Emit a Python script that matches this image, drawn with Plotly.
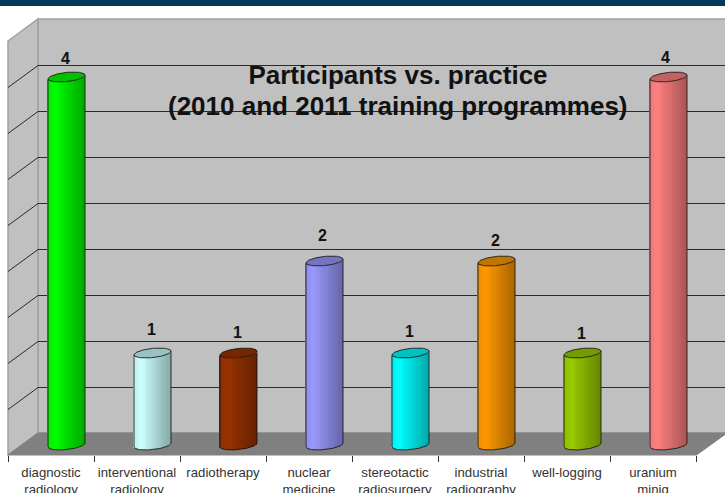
import math
import plotly.graph_objects as go

categories = ["diagnostic<br>radiology", "interventional<br>radiology", "radiotherapy",
              "nuclear<br>medicine", "stereotactic<br>radiosurgery", "industrial<br>radiography",
              "well-logging", "uranium<br>minig"]
participants = [4, 1, 1, 2, 1, 2, 1, 4]
bar_colors = ["#00ff00", "#ccffff", "#993300", "#9999ff", "#00ffff", "#ff9900", "#99cc00", "#ff8080"]
grid_values = [0.5, 1, 1.5, 2, 2.5, 3, 3.5, 4]
title_lines = ["Participants vs. practice", "(2010 and 2011 training programmes)"]
label_lift = [19, 24, 21, 26, 22, 21, 20, 20]
label_nudge = [0, 0, 0, -1, 0, 0, 0, -2]

W, H = 725, 493
FLOOR_FRONT, FLOOR_BACK = 455, 433
LEFT_FRONT, LEFT_BACK = 8, 38
RIGHT_FRONT, RIGHT_BACK = 696.5, 727
SLOT = 86.0
CENTER0 = 51.0
UNIT = 92.0
ZERO_PX = 445.0
BAR_W = 37.0
BAR_SHIFT = 15.5
CAP_B, CAP_TILT = 4.6, 1.9

px = lambda x: x / W
py = lambda y: 1 - y / H
xunit = lambda p: p / SLOT
yunit = lambda p: p / UNIT


def shade(hex_color, f):
    r, g, b = (int(hex_color[k:k + 2], 16) for k in (1, 3, 5))
    return f"rgb({r * f:.0f},{g * f:.0f},{b * f:.0f})"


def poly(points):
    return "M" + " L".join(f"{px(a):.5f},{py(b):.5f}" for a, b in points) + " Z"


shapes = [
    dict(type="rect", xref="paper", yref="paper", x0=0, x1=1, y0=py(6), y1=1,
         fillcolor="#00395a", line_width=0, layer="below"),
    dict(type="path", xref="paper", yref="paper", layer="below", fillcolor="#c0c0c0",
         line=dict(color="#a0a0a0", width=1.5),
         path=poly([(LEFT_BACK, 19), (RIGHT_BACK + 5, 19), (RIGHT_BACK + 5, FLOOR_BACK), (LEFT_BACK, FLOOR_BACK)])),
    dict(type="path", xref="paper", yref="paper", layer="below", fillcolor="#c0c0c0",
         line=dict(color="#a0a0a0", width=1.5),
         path=poly([(LEFT_FRONT, 41), (LEFT_BACK, 19), (LEFT_BACK, FLOOR_BACK), (LEFT_FRONT, FLOOR_FRONT)])),
]
for g in grid_values:
    back_y = FLOOR_BACK - g * UNIT + 0.5
    shapes.append(dict(type="line", xref="paper", yref="paper", layer="below",
                       x0=px(LEFT_BACK), x1=1, y0=py(back_y), y1=py(back_y),
                       line=dict(color="#2a2a2a", width=1)))
    shapes.append(dict(type="line", xref="paper", yref="paper", layer="below",
                       x0=px(LEFT_FRONT), x1=px(LEFT_BACK), y0=py(back_y + 22), y1=py(back_y),
                       line=dict(color="#2a2a2a", width=1)))
shapes.append(dict(type="path", xref="paper", yref="paper", layer="below", fillcolor="#808080",
                   line=dict(color="#808080", width=1),
                   path=poly([(LEFT_FRONT, FLOOR_FRONT), (LEFT_BACK, FLOOR_BACK),
                              (RIGHT_BACK, FLOOR_BACK), (RIGHT_FRONT, FLOOR_FRONT)])))

fig = go.Figure()
half = BAR_W / 2
shift = xunit(BAR_SHIFT)
N = 20


def arc(u, sign):
    """pixel offset (upwards) of the cylinder ellipse at relative position u"""
    return CAP_TILT * u + sign * CAP_B * math.sqrt(max(0.0, 1 - u * u))


for s in range(N):
    u = (s + 0.5) / N * 2 - 1
    t = (s + 0.5) / N
    f = 0.92 + 0.08 * t / 0.2 if t < 0.2 else 1.0 - 0.34 * (t - 0.2) / 0.8
    bases = [yunit(arc(u, -1)) for _ in participants]
    tops = [v + yunit(arc(u, -1)) for v in participants]
    fig.add_trace(go.Bar(
        x=[i + shift + u * xunit(half) for i in range(len(categories))],
        y=[tp - b for tp, b in zip(tops, bases)],
        base=bases,
        width=xunit(BAR_W) / N * 1.08,
        marker=dict(color=[shade(c, f) for c in bar_colors], line_width=0),
        hoverinfo="skip",
    ))

us = [-1 + 2 * k / 40 for k in range(41)]
for i, (v, c) in enumerate(zip(participants, bar_colors)):
    cx = i + shift
    cap_x = [cx + u * xunit(half) for u in us] + [cx + u * xunit(half) for u in reversed(us)]
    cap_y = [v + yunit(arc(u, 1)) for u in us] + [v + yunit(arc(u, -1)) for u in reversed(us)]
    fig.add_trace(go.Scatter(x=cap_x, y=cap_y, mode="lines", fill="toself",
                             fillcolor=shade(c, 0.76), line=dict(color="rgba(20,20,20,0.85)", width=1),
                             hoverinfo="skip"))
    out_x = [cx - xunit(half)] + [cx + u * xunit(half) for u in us] + [cx + xunit(half)]
    out_y = [v + yunit(arc(-1, -1))] + [yunit(arc(u, -1)) for u in us] + [v + yunit(arc(1, -1))]
    fig.add_trace(go.Scatter(x=out_x, y=out_y, mode="lines",
                             line=dict(color="rgba(20,20,20,0.85)", width=1), hoverinfo="skip"))

annotations = [
    dict(x=i + xunit(14), y=v, yref="y", xref="x", text=f"<b>{v}</b>", showarrow=False,
         yshift=label_lift[i], xshift=label_nudge[i],
         font=dict(family="Liberation Sans", size=16, color="#111111"))
    for i, v in enumerate(participants)
]
annotations.append(dict(x=398 / W, y=py(105.5), xref="paper", yref="paper", text=f"<b>{title_lines[1]}</b>",
                        showarrow=False, xanchor="center", yanchor="middle",
                        font=dict(family="Liberation Sans", size=26, color="#111111")))

boundaries = [i - 0.5 for i in range(len(categories) + 1)]
fig.update_layout(
    width=W, height=H, margin=dict(l=0, r=0, t=0, b=0), autosize=False,
    paper_bgcolor="white", plot_bgcolor="rgba(0,0,0,0)", showlegend=False,
    barmode="overlay", bargap=0, shapes=shapes, annotations=annotations,
    title=dict(text=title_lines[0], x=398 / W, xanchor="center", y=py(74.5), yanchor="middle",
               yref="container", automargin=False, pad=dict(t=0),
               font=dict(family="Liberation Sans", size=26, color="#111111", weight="bold")),
    xaxis=dict(domain=[0, 1], automargin=False, range=[-CENTER0 / SLOT, (W - CENTER0) / SLOT], showgrid=False, zeroline=False,
               showline=False, tickmode="array", tickvals=list(range(len(categories))), ticktext=categories,
               ticks="outside", ticklen=5, tickcolor="rgba(0,0,0,0)",
               tickfont=dict(family="Liberation Sans", size=13.2, color="#333333"),
               minor=dict(tickmode="array", tickvals=boundaries, ticks="outside", ticklen=6, tickwidth=1,
                          tickcolor="#333333", showgrid=False)),
    yaxis=dict(domain=[(H - FLOOR_FRONT) / H, 1], automargin=False, range=[(ZERO_PX - FLOOR_FRONT) / UNIT, ZERO_PX / UNIT],
               visible=False, showgrid=False, zeroline=False),
)
fig.write_html("out.html", config={"displayModeBar": False},
               post_script="document.body.style.margin='0';document.documentElement.style.overflow='hidden';")
